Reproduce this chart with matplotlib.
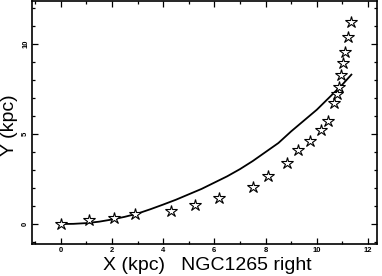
import matplotlib
matplotlib.use('Agg')
import matplotlib.pyplot as plt
from matplotlib.ticker import MultipleLocator

# star points (kpc)
x_obs = [0.0, 1.1, 2.07, 2.9, 4.31, 5.25, 6.2, 7.49, 8.08, 8.85, 9.28, 9.73,
         10.16, 10.42, 10.66, 10.77, 10.87, 10.94, 11.03, 11.09, 11.22, 11.34]
y_obs = [0.0, 0.22, 0.33, 0.55, 0.74, 1.07, 1.44, 2.04, 2.67, 3.37, 4.1, 4.6,
         5.22, 5.74, 6.74, 7.2, 7.6, 8.28, 8.95, 9.57, 10.4, 11.25]

# model curve
x_fit = [0.0, 0.5, 1.0, 1.5, 2.0, 2.5, 3.0, 3.5, 4.0, 4.5, 5.0, 5.5, 6.0, 6.5,
         7.0, 7.5, 8.0, 8.5, 9.0, 9.5, 10.0, 10.5, 11.0, 11.35]
y_fit = [0.0, 0.01, 0.05, 0.13, 0.25, 0.4, 0.58, 0.82, 1.08, 1.35, 1.65, 1.95,
         2.3, 2.65, 3.05, 3.5, 4.0, 4.5, 5.15, 5.75, 6.35, 7.05, 7.75, 8.3]

plt.rcParams['font.family'] = ['Liberation Sans', 'DejaVu Sans']

W, H = 382, 276
fig = plt.figure(figsize=(W / 100, H / 100), dpi=100)
ax = fig.add_axes([32 / W, 1 - 244 / H, (377 - 32) / W, (244 - 1) / H])

ax.plot(x_fit, y_fit, color='black', lw=1.3, zorder=2)
ax.plot(x_obs, y_obs, ls='none', marker='*', ms=9, mfc='white', mec='black',
        mew=0.8, zorder=3)

ax.set_xlim(-1.12, 12.35)
ax.set_ylim(-1.11, 12.39)
ax.xaxis.set_major_locator(MultipleLocator(2))
ax.xaxis.set_minor_locator(MultipleLocator(1))
ax.yaxis.set_major_locator(MultipleLocator(5))
ax.yaxis.set_minor_locator(MultipleLocator(1))
ax.tick_params(which='both', direction='in', top=True, right=True, width=0.9,
               labelsize=5.5)
ax.tick_params(which='major', length=4, pad=2)
ax.tick_params(which='minor', length=2.5)
for lab in ax.get_xticklabels():
    lab.set_fontweight('bold')
for lab in ax.get_yticklabels():
    lab.set_fontweight('bold')
    lab.set_rotation(90)
    lab.set_va('center')
for s in ax.spines.values():
    s.set_linewidth(1.2)

fig.text(207 / W, 1 - 265 / H, 'X (kpc)   NGC1265 right', fontsize=14,
         ha='center', va='center')
fig.text(10 / W, 1 - 125 / H, 'Y (kpc)', fontsize=14, rotation=90,
         ha='center', va='center')

fig.savefig('out.png', dpi=100)
